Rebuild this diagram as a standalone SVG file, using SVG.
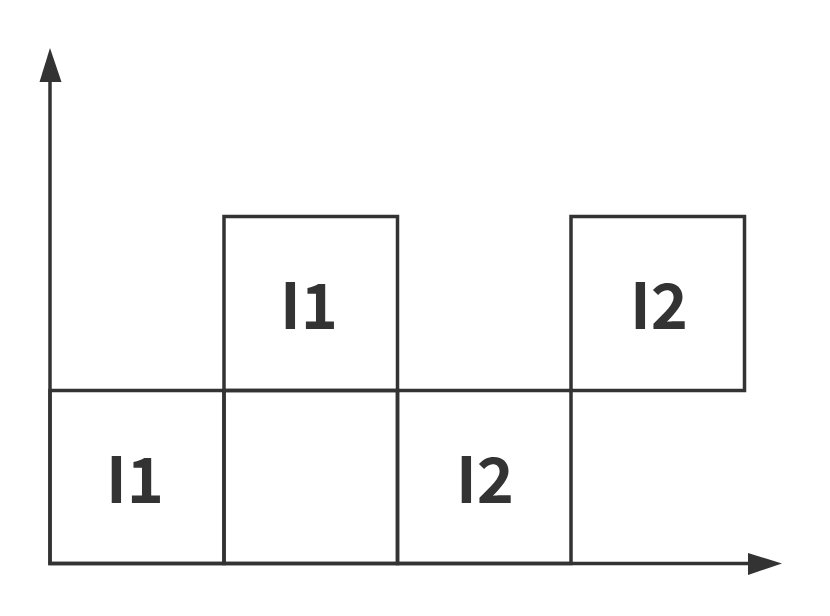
<svg xmlns="http://www.w3.org/2000/svg" width="830" height="616" viewBox="0 0 830 616">
<style>
.cell{fill:none;stroke:#333;stroke-width:3.5}
.lbl{font-family:"Noto Sans CJK SC","Noto Sans",sans-serif;font-weight:700;font-size:63px;fill:#333;text-anchor:middle}
.axis{stroke:#333;stroke-width:3.5;fill:none}
</style>
<rect width="830" height="616" fill="#fff"/>
<g id="cells">
<g id="cell-b1"><rect class="cell" x="50" y="390.5" width="174" height="173"/><text class="lbl" x="135" y="503">I1</text></g>
<g id="cell-b2"><rect class="cell" x="224" y="390.5" width="173.5" height="173"/></g>
<g id="cell-b3"><rect class="cell" x="397.5" y="390.5" width="173.5" height="173"/><text class="lbl" x="485" y="503">I2</text></g>
<g id="cell-t1"><rect class="cell" x="224" y="216.5" width="173.5" height="174"/><text class="lbl" x="309" y="329">I1</text></g>
<g id="cell-t2"><rect class="cell" x="571" y="216.5" width="173.5" height="174"/><text class="lbl" x="659" y="329">I2</text></g>
</g>
<g id="axes">
<line class="axis" x1="50" y1="565" x2="50" y2="78"/>
<polygon points="50,48 39.5,82 61.5,82" fill="#333"/>
<line class="axis" x1="48.5" y1="563.5" x2="752" y2="563.5"/>
<polygon points="782,563.5 748,553 748,575" fill="#333"/>
</g>
</svg>
